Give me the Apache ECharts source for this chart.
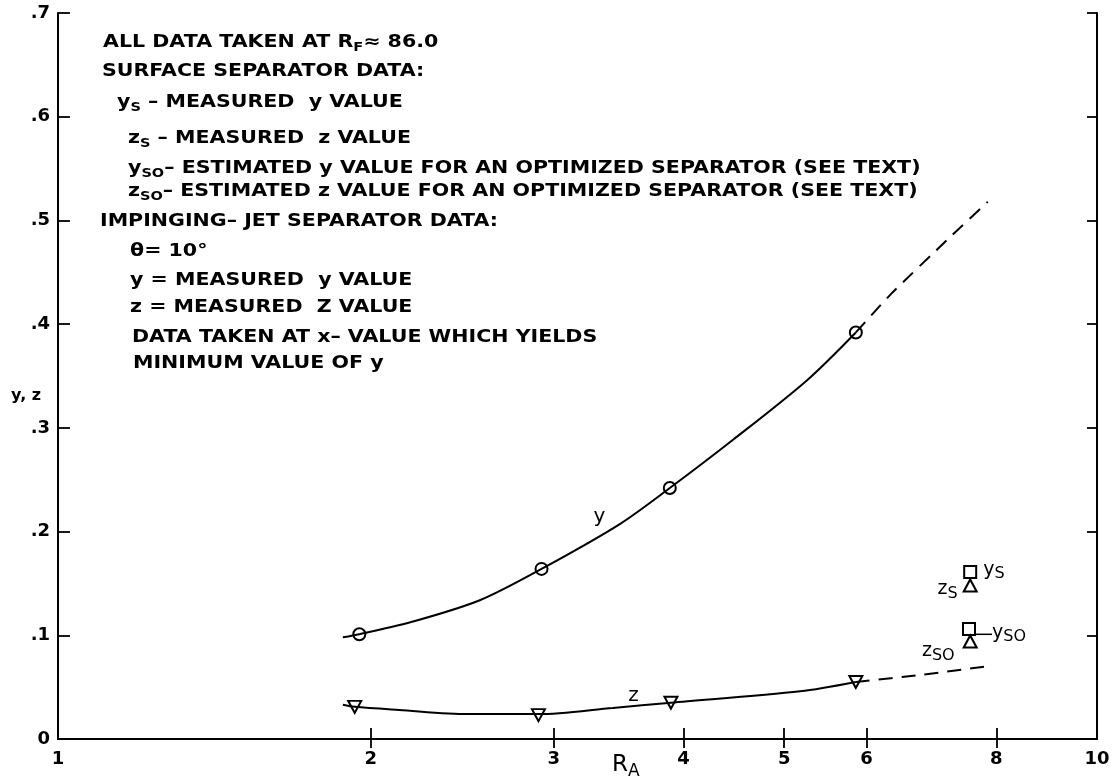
<!DOCTYPE html>
<html>
<head>
<meta charset="utf-8">
<script src="https://cdn.jsdelivr.net/npm/echarts@6/dist/echarts.min.js"></script>
<style>
  html, body { margin: 0; padding: 0; background: #fff; }
  #chart { width: 1116px; height: 782px; }
</style>
</head>
<body>
<div id="chart"></div>
<script>
// ---- axis ticks ----
const xLabelValues = [1, 2, 3, 4, 5, 6, 8, 10];
const xTickValues = [2, 3, 4, 5, 6, 8];
const yTickValues = [0, 0.1, 0.2, 0.3, 0.4, 0.5, 0.6, 0.7];

// ---- impinging-jet separator, theta = 10 deg (R_A, value) ----
const yMeasured = [[1.95, 0.101], [2.92, 0.164], [3.88, 0.242], [5.86, 0.392]];
const zMeasured = [[1.93, 0.031], [2.90, 0.023], [3.89, 0.035], [5.86, 0.055]];

// faired curves through the measurements, and their dashed extrapolations
const yCurve = [[1.88, 0.098], [1.95, 0.101], [2.21, 0.114], [2.55, 0.134], [2.92, 0.164],
                [3.47, 0.207], [3.88, 0.242], [4.47, 0.289], [5.26, 0.346], [5.86, 0.392]];
const yCurveExtrapolated = [[5.86, 0.392], [6.32, 0.428], [7.17, 0.481], [7.85, 0.518]];
const zCurve = [[1.88, 0.033], [1.93, 0.031], [2.13, 0.028], [2.48, 0.024], [2.90, 0.024],
                [3.42, 0.030], [3.89, 0.035], [5.18, 0.046], [5.86, 0.055]];
const zCurveExtrapolated = [[5.86, 0.055], [6.80, 0.062], [7.83, 0.070]];

// ---- surface separator ----
const ysPoint = [[7.55, 0.161]];
const zsPoint = [[7.55, 0.148]];
const ysoPoint = [[7.53, 0.106]];
const zsoPoint = [[7.55, 0.094]];

// curve names written beside the curves
const curveNames = [{ name: 'y', value: [3.32, 0.214] }, { name: 'z', value: [3.58, 0.042] }];

// ---- notes block ----
const noteLines = [
  '{t|ALL DATA TAKEN AT R}{s|F}{t|≈ 86.0}',
  '{t|SURFACE SEPARATOR DATA:}',
  '{t|y}{s|S}{t| – MEASURED  y VALUE}',
  '{t|z}{s|S}{t| – MEASURED  z VALUE}',
  '{t|y}{s|SO}{t|– ESTIMATED y VALUE FOR AN OPTIMIZED SEPARATOR (SEE TEXT)}',
  '{t|z}{s|SO}{t|– ESTIMATED z VALUE FOR AN OPTIMIZED SEPARATOR (SEE TEXT)}',
  '{t|IMPINGING– JET SEPARATOR DATA:}',
  '{t|θ= 10°}',
  '{t|y = MEASURED  y VALUE}',
  '{t|z = MEASURED  Z VALUE}',
  '{t|DATA TAKEN AT x– VALUE WHICH YIELDS}',
  '{t|MINIMUM VALUE OF y}'
];

const FONT = "'DejaVu Sans', sans-serif";
const INK = '#000';

// left edge and vertical centre of each note row
const noteLayout = [
  [103, 43], [102, 72], [117, 103], [128, 139], [128, 169], [128, 192],
  [100, 222], [130, 252], [130, 281], [130, 308], [132, 338], [133, 364]
];

const noteRich = {
  t: { fontFamily: FONT, fontWeight: 'bold', fontSize: 17, fill: INK, color: INK },
  s: { fontFamily: FONT, fontWeight: 'bold', fontSize: 12, fill: INK, color: INK, padding: [9, 0, 0, 0] }
};

const graphics = noteLines.map((txt, i) => ({
  type: 'text',
  x: noteLayout[i][0],
  y: noteLayout[i][1],
  scaleX: 1.21,
  silent: true,
  style: { text: txt, rich: noteRich, verticalAlign: 'middle', align: 'left', fill: INK }
}));

// axis titles
graphics.push({
  type: 'text', x: 612, y: 765, silent: true,
  style: {
    text: '{r|R}{a|A}', verticalAlign: 'middle',
    rich: {
      r: { fontFamily: FONT, fontSize: 23, fill: INK, color: INK },
      a: { fontFamily: FONT, fontSize: 17, fill: INK, color: INK, padding: [14, 0, 0, 0] }
    }
  }
});
graphics.push({
  type: 'text', x: 11, y: 396, silent: true,
  style: { text: 'y, z', fontFamily: FONT, fontWeight: 'bold', fontSize: 16, fill: INK, verticalAlign: 'middle' }
});

const markerRich = {
  m: { fontFamily: FONT, fontSize: 19, color: INK },
  s: { fontFamily: FONT, fontSize: 16, color: INK, padding: [8, 0, 0, 0] }
};

const hollow = { color: 'rgba(0,0,0,0)', borderColor: INK, borderWidth: 2, opacity: 1 };
const solidLine = { color: INK, width: 2 };
const dashedLine = { color: INK, width: 2, type: [14, 9] };

const axisLabelStyle = { fontFamily: FONT, fontWeight: 'bold', fontSize: 18, color: INK };

const option = {
  animation: false,
  backgroundColor: '#fff',
  grid: { left: 58, right: 19, top: 13, bottom: 43, containLabel: false },
  xAxis: [
    {
      type: 'log', logBase: 10, min: 1, max: 10, position: 'bottom',
      axisLine: { show: true, lineStyle: { color: INK, width: 2 } },
      axisTick: { show: true, inside: true, length: 11, customValues: xTickValues, lineStyle: { color: INK, width: 1.8 } },
      axisLabel: { customValues: xLabelValues, margin: 11, formatter: v => String(Math.round(v)), ...axisLabelStyle },
      splitLine: { show: false }, minorTick: { show: false }
    },
    {
      type: 'log', logBase: 10, min: 1, max: 10, position: 'top',
      axisLine: { show: true, lineStyle: { color: INK, width: 2 } },
      axisTick: { show: true, inside: true, length: 9, customValues: xTickValues, lineStyle: { color: INK, width: 1.8 } },
      axisLabel: { show: false },
      splitLine: { show: false }
    }
  ],
  yAxis: [
    {
      type: 'value', min: 0, max: 0.7, interval: 0.1, position: 'left',
      axisLine: { show: true, lineStyle: { color: INK, width: 2 } },
      axisTick: { show: true, inside: true, length: 12, customValues: yTickValues, lineStyle: { color: INK, width: 1.8 } },
      axisLabel: {
        customValues: yTickValues, margin: 8,
        formatter: v => (v === 0 ? '0' : '.' + Math.round(v * 10)), ...axisLabelStyle
      },
      splitLine: { show: false }
    },
    {
      type: 'value', min: 0, max: 0.7, interval: 0.1, position: 'right',
      axisLine: { show: true, lineStyle: { color: INK, width: 2 } },
      axisTick: { show: true, inside: true, length: 10, lineStyle: { color: INK, width: 1.8 } },
      axisLabel: { show: false },
      splitLine: { show: false }
    }
  ],
  graphic: graphics,
  series: [
    { type: 'line', data: yCurve, showSymbol: false, smooth: 0.3, lineStyle: solidLine, silent: true },
    { type: 'line', data: yCurveExtrapolated, showSymbol: false, smooth: 0.2, lineStyle: dashedLine, silent: true },
    { type: 'line', data: zCurve, showSymbol: false, smooth: 0.3, lineStyle: solidLine, silent: true },
    { type: 'line', data: zCurveExtrapolated, showSymbol: false, smooth: 0.2, lineStyle: dashedLine, silent: true },
    { type: 'scatter', data: yMeasured, symbol: 'circle', symbolSize: 12, itemStyle: hollow, silent: true, z: 5 },
    { type: 'scatter', data: zMeasured, symbol: 'triangle', symbolRotate: 180, symbolSize: [13, 12], itemStyle: hollow, silent: true, z: 5 },
    {
      type: 'scatter', data: ysPoint, symbol: 'rect', symbolSize: 12, itemStyle: hollow, silent: true, z: 5,
      label: { show: true, position: 'right', distance: 6, offset: [0, -2], color: INK, formatter: '{m|y}{s|S}', rich: markerRich }
    },
    {
      type: 'scatter', data: zsPoint, symbol: 'triangle', symbolSize: [13, 12], itemStyle: hollow, silent: true, z: 5,
      label: { show: true, position: 'left', distance: 5, offset: [0, 4], color: INK, formatter: '{m|z}{s|S}', rich: markerRich }
    },
    {
      type: 'scatter', data: ysoPoint, symbol: 'rect', symbolSize: 12, itemStyle: hollow, silent: true, z: 5,
      label: { show: true, position: 'right', distance: 2, color: INK, formatter: '{m|y}{s|SO}', rich: markerRich },
      labelLayout: { dx: 14, dy: 4 },
      labelLine: { show: true, lineStyle: { color: INK, width: 1.5 } }
    },
    {
      type: 'scatter', data: zsoPoint, symbol: 'triangle', symbolSize: [13, 12], itemStyle: hollow, silent: true, z: 5,
      label: { show: true, position: 'left', distance: 8, offset: [0, 10], color: INK, formatter: '{m|z}{s|SO}', rich: markerRich }
    },
    {
      type: 'scatter', data: curveNames, symbolSize: 0, silent: true, itemStyle: { opacity: 1 },
      label: { show: true, position: 'inside', formatter: '{b}', fontFamily: FONT, fontSize: 20, color: INK }
    }
  ]
};

const chart = echarts.init(document.getElementById('chart'), null, { renderer: 'canvas' });
chart.setOption(option);
</script>
</body>
</html>
